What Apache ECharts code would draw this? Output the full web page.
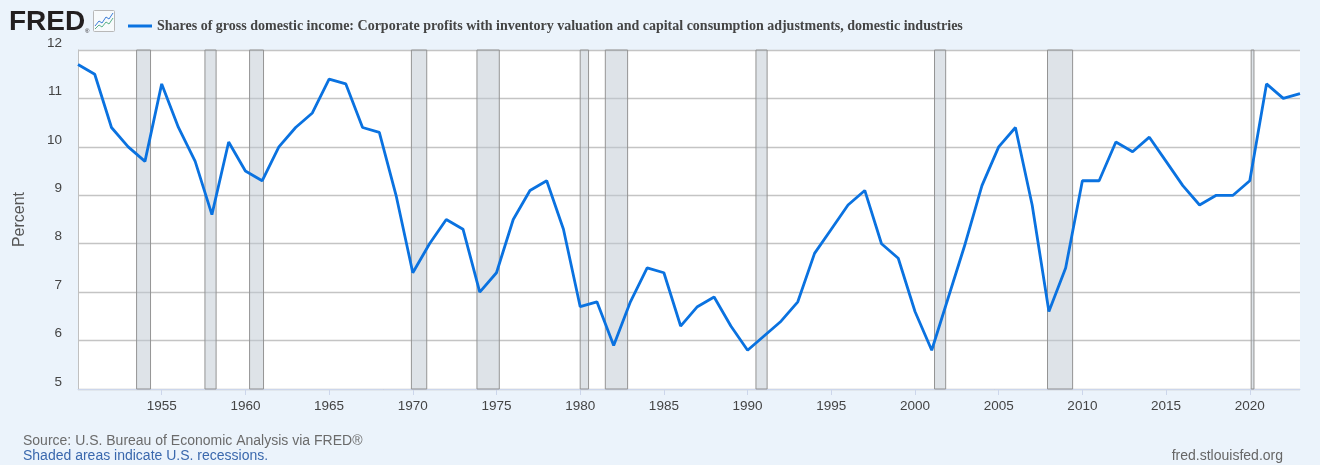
<!DOCTYPE html>
<html>
<head>
<meta charset="utf-8">
<script src="https://cdn.jsdelivr.net/npm/echarts@6/dist/echarts.min.js"></script>
<style>
  html, body { margin: 0; padding: 0; background: #ebf3fb; }
  #chart { width: 1320px; height: 465px; }
</style>
</head>
<body>
<div id="chart"></div>
<script>
var seriesName = 'Shares of gross domestic income: Corporate profits with inventory valuation and capital consumption adjustments, domestic industries';

var years = [1950, 1951, 1952, 1953, 1954, 1955, 1956, 1957, 1958, 1959,
             1960, 1961, 1962, 1963, 1964, 1965, 1966, 1967, 1968, 1969,
             1970, 1971, 1972, 1973, 1974, 1975, 1976, 1977, 1978, 1979,
             1980, 1981, 1982, 1983, 1984, 1985, 1986, 1987, 1988, 1989,
             1990, 1991, 1992, 1993, 1994, 1995, 1996, 1997, 1998, 1999,
             2000, 2001, 2002, 2003, 2004, 2005, 2006, 2007, 2008, 2009,
             2010, 2011, 2012, 2013, 2014, 2015, 2016, 2017, 2018, 2019,
             2020, 2021, 2022, 2023];

var shares = [11.7, 11.5, 10.4, 10.0, 9.7, 11.3, 10.4, 9.7, 8.6, 10.1,
              9.5, 9.3, 10.0, 10.4, 10.7, 11.4, 11.3, 10.4, 10.3, 9.0,
              7.4, 8.0, 8.5, 8.3, 7.0, 7.4, 8.5, 9.1, 9.3, 8.3,
              6.7, 6.8, 5.9, 6.8, 7.5, 7.4, 6.3, 6.7, 6.9, 6.3,
              5.8, 6.1, 6.4, 6.8, 7.8, 8.3, 8.8, 9.1, 8.0, 7.7,
              6.6, 5.8, 6.9, 8.0, 9.2, 10.0, 10.4, 8.8, 6.6, 7.5,
              9.3, 9.3, 10.1, 9.9, 10.2, 9.7, 9.2, 8.8, 9.0, 9.0,
              9.3, 11.3, 11.0, 11.1];

// U.S. recessions (peak month, trough month)
var recessions = [
  ['1953-07', '1954-05'], ['1957-08', '1958-04'], ['1960-04', '1961-02'],
  ['1969-12', '1970-11'], ['1973-11', '1975-03'], ['1980-01', '1980-07'],
  ['1981-07', '1982-11'], ['1990-07', '1991-03'], ['2001-03', '2001-11'],
  ['2007-12', '2009-06'], ['2020-02', '2020-04']
];

var yTicks = [5, 6, 7, 8, 9, 10, 11, 12];

function toYear(s) {
  var p = s.split('-');
  return parseInt(p[0], 10) + (parseInt(p[1], 10) - 1) / 12;
}

var lineData = [];
for (var i = 0; i < years.length; i++) {
  lineData.push([years[i], shares[i]]);
}

var bands = [];
for (var j = 0; j < recessions.length; j++) {
  bands.push([{ xAxis: toYear(recessions[j][0]) }, { xAxis: toYear(recessions[j][1]) }]);
}

var chart = echarts.init(document.getElementById('chart'));
var option = {
  backgroundColor: '#ebf3fb',
  animation: false,
  textStyle: { fontFamily: 'Liberation Sans, Arial, sans-serif' },
  legend: {
    left: 123,
    top: 14,
    icon: 'rect',
    itemWidth: 24,
    itemHeight: 3,
    itemGap: 5,
    selectedMode: false,
    data: [seriesName],
    textStyle: {
      fontFamily: 'Liberation Serif, Times New Roman, serif',
      fontWeight: 'bold',
      fontSize: 14,
      color: '#444'
    }
  },
  grid: {
    left: 78,
    right: 20,
    top: 50,
    bottom: 76,
    show: true,
    backgroundColor: '#ffffff',
    borderWidth: 0
  },
  xAxis: {
    type: 'value',
    min: years[0],
    max: years[years.length - 1],
    interval: 5,
    axisLine: { show: true, lineStyle: { color: '#ccd6eb', width: 1 } },
    axisTick: { show: true, length: 6, lineStyle: { color: '#ccd6eb' } },
    axisLabel: {
      showMinLabel: false,
      showMaxLabel: false,
      color: '#444',
      fontSize: 13.5,
      margin: 10,
      formatter: function (v) { return String(v); }
    },
    splitLine: { show: false }
  },
  yAxis: {
    type: 'value',
    min: yTicks[0],
    max: yTicks[yTicks.length - 1],
    interval: 1,
    name: 'Percent',
    nameLocation: 'middle',
    nameGap: 50,
    nameTextStyle: { color: '#555', fontSize: 16 },
    axisLine: { show: true, lineStyle: { color: '#c0c0c0', width: 1 } },
    axisTick: { show: false },
    axisLabel: {
      color: '#444',
      fontSize: 13.5,
      margin: 16,
      verticalAlign: 'bottom'
    },
    splitLine: { show: true, lineStyle: { color: '#c4c4c4', width: 1.3 } }
  },
  series: [
    {
      name: 'recessions',
      type: 'line',
      data: [],
      silent: true,
      z: 1,
      markArea: {
        silent: true,
        itemStyle: {
          color: 'rgba(190,200,210,0.5)',
          borderColor: '#949494',
          borderWidth: 1
        },
        data: bands
      }
    },
    {
      name: seriesName,
      type: 'line',
      data: lineData,
      z: 3,
      showSymbol: false,
      symbol: 'none',
      color: '#0a72e0',
      lineStyle: { color: '#0a72e0', width: 2.8 }
    }
  ],
  graphic: [
    {
      type: 'text', left: 9, top: 8,
      style: { text: 'FRED', fontFamily: 'Liberation Sans, Arial, sans-serif', fontWeight: 'bold', fontSize: 28, fill: '#231f20' }
    },
    {
      type: 'text', left: 85, top: 28,
      style: { text: '®', fontSize: 6, fill: '#231f20' }
    },
    {
      type: 'rect', shape: { x: 93.5, y: 10.5, width: 21, height: 21, r: 1 },
      style: { fill: '#f7fafc', stroke: '#b8b8b8', lineWidth: 1 }
    },
    {
      type: 'polyline', shape: { points: [[95, 26], [99, 21], [102, 23], [106, 17], [109, 19], [113, 13]] },
      style: { stroke: '#3b7dd8', lineWidth: 1, fill: null }
    },
    {
      type: 'polyline', shape: { points: [[95, 29], [99, 25], [102, 27], [106, 22], [109, 24], [113, 18]] },
      style: { stroke: '#5bb08a', lineWidth: 1, fill: null }
    },
    {
      type: 'text', left: 23, top: 434,
      style: { text: 'Source: U.S. Bureau of Economic Analysis via FRED®', fontFamily: 'Liberation Sans, Arial, sans-serif', fontSize: 14, fill: '#6b6b6b' }
    },
    {
      type: 'text', left: 23, top: 449,
      style: { text: 'Shaded areas indicate U.S. recessions.', fontFamily: 'Liberation Sans, Arial, sans-serif', fontSize: 14, fill: '#3a68ad' }
    },
    {
      type: 'text', right: 37, top: 449,
      style: { text: 'fred.stlouisfed.org', fontFamily: 'Liberation Sans, Arial, sans-serif', fontSize: 14, fill: '#666' }
    }
  ]
};
chart.setOption(option);
</script>
</body>
</html>
